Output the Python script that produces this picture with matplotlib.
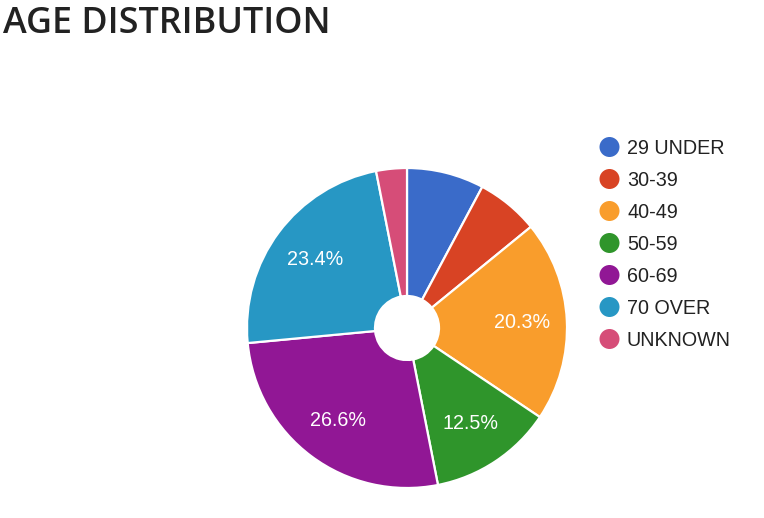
import matplotlib
matplotlib.use("Agg")
import matplotlib.pyplot as plt

categories = ["29 UNDER", "30-39", "40-49", "50-59", "60-69", "70 OVER", "UNKNOWN"]
values = [7.8, 6.3, 20.3, 12.5, 26.6, 23.4, 3.1]
colors = ["#3a6bc9", "#d84324", "#f99d2c", "#2f952b", "#911795", "#2797c4", "#d64d78"]
title = "AGE DISTRIBUTION"

W, H = 764, 518
fig = plt.figure(figsize=(W / 100, H / 100), dpi=100)
fig.patch.set_facecolor("white")

# pie axes: centre (407, 328) px, radius 160 px
cx, cy, R = 407, 328, 160
ax = fig.add_axes([(cx - R) / W, (H - cy - R) / H, 2 * R / W, 2 * R / H])

def fmt(p):
    return f"{p:.1f}%" if p >= 10 else ""

wedges, texts, autotexts = ax.pie(
    values, colors=colors, startangle=90, counterclock=False, radius=1.0,
    autopct=fmt, pctdistance=0.72,
    wedgeprops=dict(width=0.8, edgecolor="white", linewidth=1.6),
    textprops=dict(color="white", fontsize=14.2, family="Liberation Sans"),
)
ax.set_xlim(-1, 1)
ax.set_ylim(-1, 1)
ax.set_aspect("equal")
ax.axis("off")

# overlay axes in pixel coordinates for legend and title
ov = fig.add_axes([0, 0, 1, 1])
ov.set_xlim(0, W)
ov.set_ylim(H, 0)
ov.axis("off")

ov.text(3, 33, title, fontsize=25.8, fontweight=600, family="Open Sans",
        color="#222222", ha="left", va="baseline")

y0, dy = 147, 32
for i, (lab, col) in enumerate(zip(categories, colors)):
    y = y0 + i * dy
    ov.scatter([609.5], [y], s=(20 * 0.72) ** 2, color=col, edgecolors="none")
    ov.text(627, y, lab, fontsize=14.2, family="Liberation Sans", color="#222222",
            ha="left", va="center_baseline")

fig.savefig("out.png", dpi=100, facecolor="white")
